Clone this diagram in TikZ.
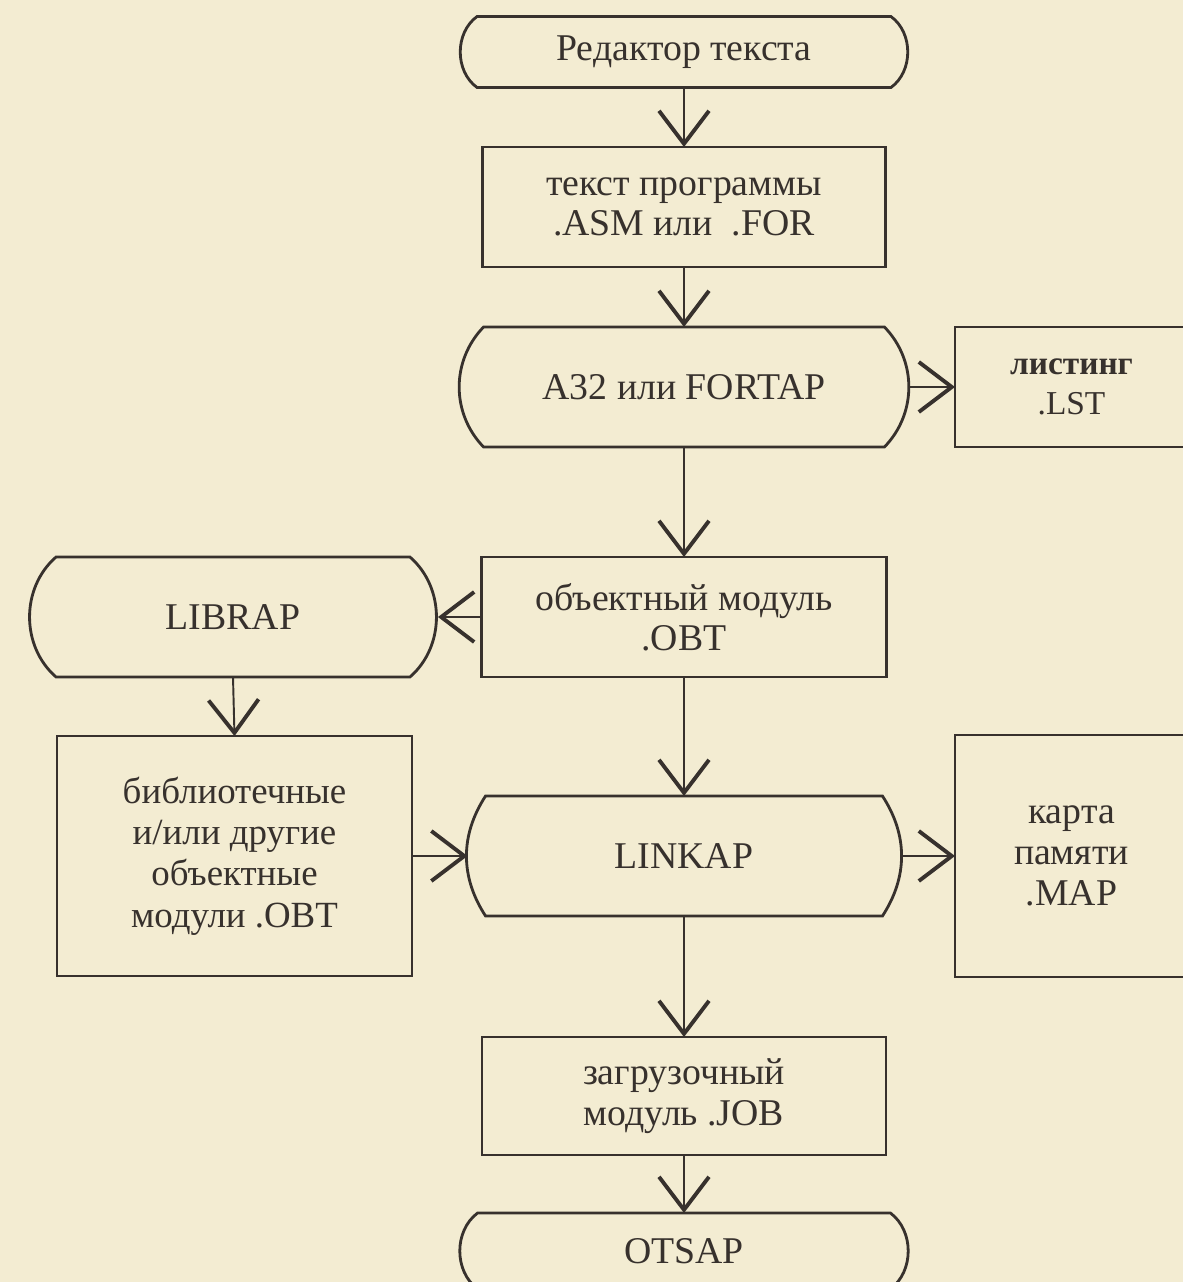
\documentclass[tikz,border=0pt]{standalone}
\usepackage{fontspec}
\setmainfont{Liberation Serif}
\usetikzlibrary{arrows.meta}
\definecolor{paper}{RGB}{243,236,210}
\definecolor{ink}{RGB}{55,49,45}
\newcommand\termline[3]{\draw[outline] ([xshift=#2]#1.north west) -- ([xshift=-#2]#1.north east) to[bend left=#3] ([xshift=-#2]#1.south east) -- ([xshift=#2]#1.south west) to[bend left=#3] ([xshift=#2]#1.north west) -- cycle;}
\begin{document}
\begin{tikzpicture}[x=0.02cm,y=-0.02cm,
  txtfont/.style={font=\fontsize{21.5}{22.5}\selectfont, text=ink},
  box/.style={draw=ink, line width=1.5pt, align=center, inner sep=0pt, outer sep=0pt, txtfont},
  term/.style={align=center, inner sep=0pt, outer sep=0pt, txtfont},
  outline/.style={draw=ink, line width=1.6pt},
  flow/.style={draw=ink, line width=1.1pt, -{Straight Barb[length=0.66cm,width=1.0cm,line width=2.2pt]}}]
\fill[paper] (0,0) rectangle (1183,1282);
\useasboundingbox (0,0) rectangle (1183,1282);
\clip (0,0) rectangle (1183,1282);

\node[term, minimum width=9.0cm, minimum height=1.42cm] (ed) at (684,52) {Редактор текста};
\termline{ed}{0.36cm}{54}
\node[box, minimum width=8.06cm, minimum height=2.4cm] (txt) at (684,207) {текст программы\\.ASM или\ \ .FOR};
\node[term, minimum width=8.98cm, minimum height=2.4cm] (a32) at (684,387) {A32 или FORTAP};
\termline{a32}{0.48cm}{44}
\node[box, minimum width=4.66cm, minimum height=2.4cm, font=\bfseries\fontsize{19}{22.5}\selectfont] (lst) at (1071.5,387) {листинг\\\mdseries .LST};
\node[box, minimum width=8.1cm, minimum height=2.4cm] (obt) at (684,617) {объектный модуль\\.OBT};
\node[term, minimum width=8.2cm, minimum height=2.4cm] (librap) at (233,617) {LIBRAP};
\termline{librap}{0.56cm}{49}
\node[box, minimum width=7.1cm, minimum height=4.8cm, font=\fontsize{21}{23.5}\selectfont] (lib) at (234.5,856) {библиотечные\\и/или другие\\объектные\\модули .OBT};
\node[term, minimum width=8.66cm, minimum height=2.4cm] (linkap) at (684,856) {LINKAP};
\termline{linkap}{0.36cm}{33}
\node[box, minimum width=4.66cm, minimum height=4.84cm, font=\fontsize{21.5}{23.5}\selectfont] (map) at (1071.5,856) {карта\\памяти\\.MAP};
\node[box, minimum width=8.08cm, minimum height=2.36cm, font=\fontsize{21.5}{23.5}\selectfont] (job) at (684,1096) {загрузочный\\модуль .JOB};
\node[term, minimum width=9.06cm, minimum height=1.52cm] (otsap) at (684,1251) {OTSAP};
\termline{otsap}{0.4cm}{53}

\draw[flow] (ed.south) -- (txt.north);
\draw[flow] (txt.south) -- (a32.north);
\draw[flow] (a32.east) -- (lst.west);
\draw[flow] (a32.south) -- (obt.north);
\draw[flow] (obt.west) -- (librap.east);
\draw[flow] (librap.south) -- (lib.north);
\draw[flow] (obt.south) -- (linkap.north);
\draw[flow] (lib.east) -- (linkap.west);
\draw[flow] (linkap.east) -- (map.west);
\draw[flow] (linkap.south) -- (job.north);
\draw[flow] (job.south) -- (otsap.north);
\end{tikzpicture}
\end{document}
